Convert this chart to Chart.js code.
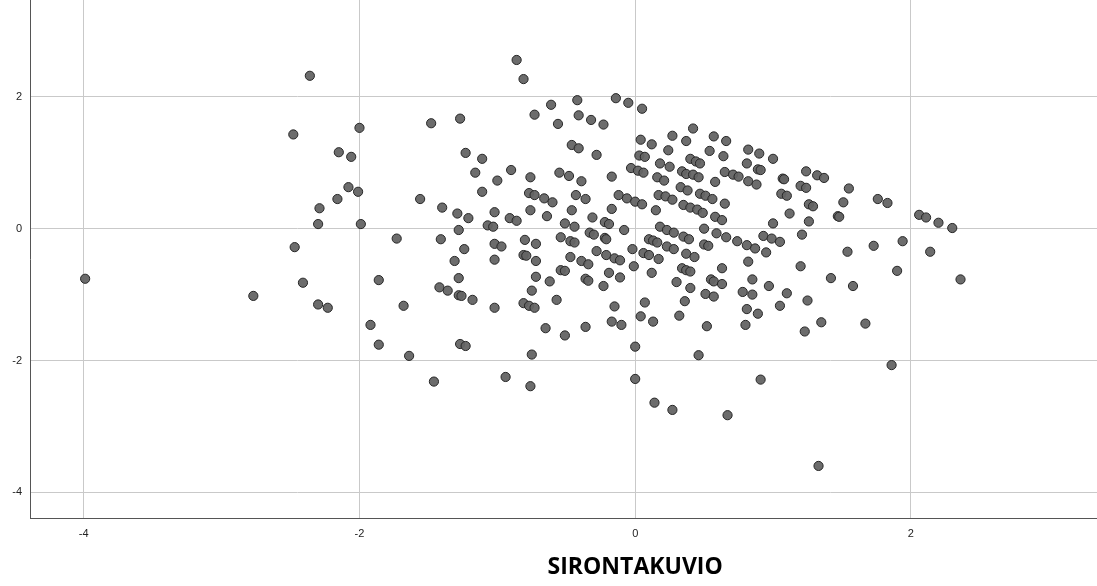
<!DOCTYPE html>
<html>
<head>
<meta charset="utf-8">
<script src="https://cdn.jsdelivr.net/npm/chart.js@4/dist/chart.umd.min.js"></script>
<style>
  html, body { margin: 0; padding: 0; background: #fff; }
  #wrap { width: 1097px; height: 586px; position: relative; }
</style>
</head>
<body>
<div id="wrap"><canvas id="scatterChart"></canvas></div>
<script>
const chartTitle = 'SIRONTAKUVIO';
const xTicks = [-4, -2, 0, 2];
const yTicks = [-4, -2, 0, 2];

// upper-left group
const leftX = [-2.36, -0.86, -2.48, -2.00, -1.48, -1.27, -2.15, -2.06, -1.23, -1.11, -1.16, -0.90, -1.00, -2.08,
  -2.01, -2.16, -1.56, -1.11, -2.29, -2.30, -1.99, -1.40, -1.29, -1.21, -1.02, -0.91, -0.86, -1.07, -1.03, -1.28,
  -2.47, -1.73, -1.41, -1.24, -1.02, -0.97, -1.31, -1.02, -2.41, -1.86, -1.28, -1.42, -1.36, -1.28, -1.26, -1.18,
  -2.30, -2.23, -1.68, -1.02, -1.92, -3.99, -2.77, -1.86, -1.64, -1.27, -1.23, -1.46, -0.94];
const leftY = [2.32, 2.56, 1.43, 1.53, 1.60, 1.67, 1.16, 1.09, 1.15, 1.06, 0.85, 0.89, 0.73, 0.63,
  0.56, 0.45, 0.45, 0.56, 0.31, 0.07, 0.07, 0.32, 0.23, 0.16, 0.25, 0.16, 0.12, 0.05, 0.03, -0.02,
  -0.28, -0.15, -0.16, -0.31, -0.23, -0.27, -0.49, -0.47, -0.82, -0.78, -0.75, -0.89, -0.94, -1.01, -1.02, -1.08,
  -1.15, -1.20, -1.17, -1.20, -1.46, -0.76, -1.02, -1.76, -1.93, -1.75, -1.78, -2.32, -2.25];

// upper-middle group
const topX = [-0.81, -0.73, -0.61, -0.42, -0.56, -0.41, -0.32, -0.23, -0.14, -0.05, 0.05, -0.46, -0.41, -0.28,
  -0.76, -0.55, -0.48, -0.39, -0.17, 0.04, 0.12, 0.03, 0.07, -0.03, 0.02, 0.06, 0.18, 0.24, 0.25, 0.27, 0.37,
  0.42, 0.54, 0.57, 0.66, 0.64, 0.82, 0.81, 0.34, 0.37, 0.42, 0.46, 0.40, 0.44, 0.47, 0.16, 0.21, 0.33, 0.38,
  0.58, 0.65, 0.71, 0.75, 0.82, 0.90, 1.00, 0.89, 0.91, 0.88, 1.07, 1.08, 1.24, 1.32, 1.37, 1.20, 1.24, 1.55];
const topY = [2.27, 1.73, 1.88, 1.95, 1.59, 1.72, 1.65, 1.58, 1.98, 1.91, 1.82, 1.27, 1.22, 1.12,
  0.78, 0.85, 0.80, 0.72, 0.79, 1.35, 1.28, 1.11, 1.09, 0.92, 0.88, 0.85, 0.99, 1.19, 0.94, 1.41, 1.33,
  1.52, 1.18, 1.40, 1.33, 1.10, 1.20, 0.99, 0.87, 0.83, 0.82, 0.78, 1.06, 1.02, 0.99, 0.78, 0.73, 0.63, 0.58,
  0.71, 0.86, 0.82, 0.79, 0.72, 1.14, 1.06, 0.90, 0.89, 0.67, 0.76, 0.75, 0.87, 0.81, 0.77, 0.65, 0.62, 0.61];

// centre group
const midX = [-0.77, -0.73, -0.66, -0.60, -0.43, -0.36, -0.12, -0.06, 0.00, 0.05, 0.17, 0.22, 0.27, 0.47, 0.51,
  0.56, 0.65, 0.35, 0.40, 0.45, 0.49, 0.15, -0.76, -0.46, -0.17, -0.64, -0.31, 0.58, 0.63, -0.51, -0.44, -0.22,
  -0.19, -0.08, 0.18, 0.23, 0.28, 0.50, 0.59, 0.66, 0.74, 0.81, -0.80, -0.72, -0.54, -0.47, -0.44, -0.33, -0.30,
  -0.22, -0.21, 0.10, 0.13, 0.16, 0.23, 0.28, 0.35, 0.39, 0.50, 0.53, -0.81, -0.79, -0.72, -0.47, -0.28, -0.39,
  -0.34, -0.21, -0.15, -0.11, -0.02, 0.06, 0.10, 0.17, 0.37, 0.43, -0.01, 0.12, 0.34, 0.37, 0.40, 0.63, 0.82];
const midY = [0.54, 0.51, 0.46, 0.40, 0.51, 0.45, 0.51, 0.46, 0.41, 0.37, 0.51, 0.49, 0.44, 0.53, 0.50,
  0.45, 0.38, 0.36, 0.32, 0.29, 0.24, 0.28, 0.28, 0.28, 0.30, 0.19, 0.17, 0.18, 0.13, 0.08, 0.03, 0.10,
  0.07, -0.02, 0.03, -0.02, -0.06, 0.00, -0.07, -0.13, -0.19, -0.25, -0.17, -0.23, -0.13, -0.19, -0.21, -0.06, -0.09,
  -0.14, -0.16, -0.16, -0.18, -0.21, -0.27, -0.31, -0.12, -0.16, -0.24, -0.26, -0.40, -0.41, -0.49, -0.43, -0.34, -0.49,
  -0.54, -0.40, -0.45, -0.48, -0.31, -0.37, -0.40, -0.46, -0.38, -0.43, -0.57, -0.67, -0.60, -0.63, -0.65, -0.60, -0.50];

// lower-middle group
const lowX = [-0.54, -0.51, -0.72, -0.62, -0.36, -0.34, -0.19, -0.11, -0.23, 0.30, 0.40, 0.55, 0.57, 0.63,
  -0.75, 0.51, 0.57, 0.78, -0.81, -0.77, -0.73, -0.57, -0.15, 0.07, 0.36, 0.81, 0.04, 0.13, 0.32, -0.17, -0.10,
  -0.36, -0.65, -0.51, 0.52, 0.80, -0.75, -0.76, 0.00, 0.00, 0.46, 0.14, 0.27, 0.67, 0.91, 1.33];
const lowY = [-0.63, -0.64, -0.73, -0.80, -0.76, -0.79, -0.67, -0.74, -0.87, -0.81, -0.90, -0.77, -0.80, -0.84,
  -0.94, -0.99, -1.03, -0.96, -1.13, -1.17, -1.20, -1.08, -1.18, -1.12, -1.10, -1.22, -1.33, -1.41, -1.32, -1.41, -1.46,
  -1.49, -1.51, -1.62, -1.48, -1.46, -1.91, -2.39, -1.79, -2.28, -1.92, -2.64, -2.75, -2.83, -2.29, -3.60];

// right group
const rightX = [1.06, 1.10, 1.26, 1.29, 1.12, 1.00, 1.26, 1.51, 1.47, 1.48, 1.76, 1.83, 2.06, 2.11, 2.20, 2.30,
  0.93, 0.99, 1.05, 1.21, 0.87, 0.95, 1.54, 1.73, 1.94, 2.14, 1.20, 1.90, 0.85, 1.42, 1.58, 2.36, 0.97, 0.85,
  1.10, 1.25, 1.05, 0.89, 1.35, 1.67, 1.23, 1.86];
const rightY = [0.53, 0.50, 0.37, 0.34, 0.23, 0.08, 0.11, 0.40, 0.19, 0.18, 0.45, 0.39, 0.21, 0.17, 0.09, 0.01,
  -0.11, -0.15, -0.20, -0.09, -0.30, -0.36, -0.35, -0.26, -0.19, -0.35, -0.57, -0.64, -0.77, -0.75, -0.87, -0.77, -0.87, -1.00,
  -0.98, -1.09, -1.17, -1.29, -1.42, -1.44, -1.56, -2.07];

const allX = [...leftX, ...topX, ...midX, ...lowX, ...rightX];
const allY = [...leftY, ...topY, ...midY, ...lowY, ...rightY];
const points = allX.map((x, i) => ({ x: x, y: allY[i] }));

const tickFont = { family: "'Liberation Sans', Arial, sans-serif", size: 11 };

// title sits under the zero line, like in the original export
const bottomTitle = {
  id: 'bottomTitle',
  afterDraw(chart) {
    const ctx = chart.ctx;
    const xs = chart.scales.x;
    ctx.save();
    ctx.font = "bold 23px 'Open Sans', 'Liberation Sans', sans-serif";
    ctx.fillStyle = '#000';
    ctx.textAlign = 'center';
    ctx.textBaseline = 'alphabetic';
    ctx.fillText(chartTitle, xs.getPixelForValue(0), chart.height - 12);
    ctx.restore();
  }
};

new Chart(document.getElementById('scatterChart'), {
  type: 'scatter',
  data: {
    datasets: [{
      data: points,
      backgroundColor: 'rgba(100, 100, 100, 0.95)',
      borderColor: '#262626',
      borderWidth: 1,
      pointRadius: 4.6,
      pointHoverRadius: 4.6
    }]
  },
  options: {
    responsive: true,
    maintainAspectRatio: false,
    animation: false,
    layout: { padding: 0, autoPadding: false },
    plugins: {
      legend: { display: false },
      tooltip: { enabled: false }
    },
    scales: {
      x: {
        min: -4.39,
        max: 3.35,
        afterBuildTicks: s => { s.ticks = xTicks.map(v => ({ value: v })); },
        afterFit: s => { s.height = 68; s.paddingLeft = 0; s.paddingRight = 0; },
        grid: { color: '#c9c9c9', lineWidth: 1, drawTicks: false },
        border: { color: '#555', width: 1 },
        ticks: { color: '#222', font: tickFont, padding: 9, maxRotation: 0 }
      },
      y: {
        min: -4.39,
        max: 3.47,
        afterBuildTicks: s => { s.ticks = yTicks.map(v => ({ value: v })); },
        afterFit: s => { s.width = 30; s.paddingTop = 0; s.paddingBottom = 0; },
        grid: { color: '#c9c9c9', lineWidth: 1, drawTicks: false },
        border: { color: '#555', width: 1 },
        ticks: { color: '#222', font: tickFont, padding: 8 }
      }
    }
  },
  plugins: [bottomTitle]
});
</script>
</body>
</html>
